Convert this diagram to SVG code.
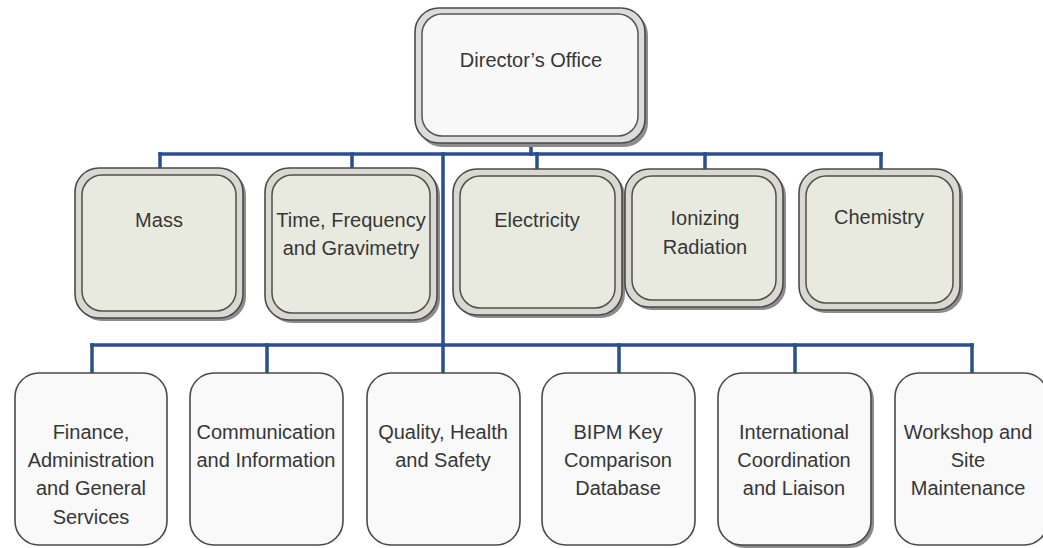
<svg xmlns="http://www.w3.org/2000/svg" width="1043" height="548" viewBox="0 0 1043 548">
<style>
  .t { font-family: "Liberation Sans", Arial, sans-serif; font-size: 20px; fill: #363636; text-anchor: middle; }
  .sh { fill: #8c8c8c; }
  .outer { fill: #d9d9d2; stroke: #4a4a4a; stroke-width: 1.6; }
  .inner { fill: #e9eadf; stroke: #4f4f4f; stroke-width: 1.5; }
  .douter { fill: #dcdcdc; stroke: #4a4a4a; stroke-width: 1.6; }
  .dinner { fill: #f8f8f8; stroke: #555; stroke-width: 1.5; }
  .low { fill: #f9f9f9; stroke: #4a4a4a; stroke-width: 1.6; }
  .c { fill: none; stroke: #2b4e8e; stroke-width: 3.5; stroke-linecap: square; }
</style>
<rect width="1043" height="548" fill="#ffffff"/>

<g id="connectors">
  <line class="c" x1="531" y1="145" x2="531" y2="154"/>
  <line class="c" x1="160" y1="154" x2="881" y2="154"/>
  <line class="c" x1="160" y1="154" x2="160" y2="168"/>
  <line class="c" x1="352" y1="154" x2="352" y2="168"/>
  <line class="c" x1="537" y1="154" x2="537" y2="169"/>
  <line class="c" x1="705" y1="154" x2="705" y2="169"/>
  <line class="c" x1="881" y1="154" x2="881" y2="169"/>
  <line class="c" x1="443" y1="154" x2="443" y2="345"/>
  <line class="c" x1="92" y1="345" x2="972" y2="345"/>
  <line class="c" x1="92" y1="345" x2="92" y2="373"/>
  <line class="c" x1="267" y1="345" x2="267" y2="373"/>
  <line class="c" x1="443" y1="345" x2="443" y2="373"/>
  <line class="c" x1="619" y1="345" x2="619" y2="373"/>
  <line class="c" x1="795" y1="345" x2="795" y2="373"/>
  <line class="c" x1="972" y1="345" x2="972" y2="373"/>
</g>

<g id="directors-office">
  <rect class="sh" x="418" y="11" width="230" height="136" rx="24"/>
  <rect class="douter" x="415" y="8" width="230" height="135" rx="24"/>
  <rect class="dinner" x="422" y="14" width="216" height="122" rx="20"/>
  <text class="t" x="531" y="67">Director’s Office</text>
</g>

<g id="mass">
  <rect class="sh" x="78" y="171" width="168" height="150" rx="24"/>
  <rect class="outer" x="75" y="168" width="168" height="150" rx="24"/>
  <rect class="inner" x="82" y="175" width="154" height="136" rx="20"/>
  <text class="t" x="159" y="227">Mass</text>
</g>

<g id="time-frequency">
  <rect class="sh" x="268" y="171" width="172" height="152" rx="24"/>
  <rect class="outer" x="265" y="168" width="172" height="152" rx="24"/>
  <rect class="inner" x="272" y="175" width="158" height="138" rx="20"/>
  <text class="t" x="351" y="227">Time, Frequency</text>
  <text class="t" x="351" y="255">and Gravimetry</text>
</g>

<g id="electricity">
  <rect class="sh" x="456" y="172" width="169" height="146" rx="24"/>
  <rect class="outer" x="453" y="169" width="169" height="146" rx="24"/>
  <rect class="inner" x="460" y="176" width="155" height="132" rx="20"/>
  <text class="t" x="537" y="227">Electricity</text>
</g>

<g id="ionizing-radiation">
  <rect class="sh" x="628" y="172" width="158" height="138" rx="24"/>
  <rect class="outer" x="625" y="169" width="158" height="138" rx="24"/>
  <rect class="inner" x="632" y="176" width="144" height="124" rx="20"/>
  <text class="t" x="705" y="225">Ionizing</text>
  <text class="t" x="705" y="254">Radiation</text>
</g>

<g id="chemistry">
  <rect class="sh" x="802" y="172" width="161" height="141" rx="24"/>
  <rect class="outer" x="799" y="169" width="161" height="141" rx="24"/>
  <rect class="inner" x="806" y="176" width="147" height="127" rx="20"/>
  <text class="t" x="879" y="224">Chemistry</text>
</g>

<g id="finance">
  <rect class="low" x="15" y="373" width="152" height="172" rx="24"/>
  <text class="t" x="91" y="439">Finance,</text>
  <text class="t" x="91" y="467">Administration</text>
  <text class="t" x="91" y="495">and General</text>
  <text class="t" x="91" y="524">Services</text>
</g>

<g id="communication">
  <rect class="low" x="190" y="373" width="153" height="172" rx="24"/>
  <text class="t" x="266" y="439">Communication</text>
  <text class="t" x="266" y="467">and Information</text>
</g>

<g id="quality">
  <rect class="low" x="367" y="373" width="153" height="172" rx="24"/>
  <text class="t" x="443" y="439">Quality, Health</text>
  <text class="t" x="443" y="467">and Safety</text>
</g>

<g id="bipm-kcdb">
  <rect class="low" x="542" y="373" width="153" height="172" rx="24"/>
  <text class="t" x="618" y="439">BIPM Key</text>
  <text class="t" x="618" y="467">Comparison</text>
  <text class="t" x="618" y="495">Database</text>
</g>

<g id="international">
  <rect x="721" y="376" width="153" height="172" rx="24" fill="#8c8c8c"/>
  <rect class="low" x="718" y="373" width="153" height="172" rx="24"/>
  <text class="t" x="794" y="439">International</text>
  <text class="t" x="794" y="467">Coordination</text>
  <text class="t" x="794" y="495">and Liaison</text>
</g>

<g id="workshop">
  <rect class="low" x="895" y="373" width="153" height="172" rx="24"/>
  <text class="t" x="968" y="439">Workshop and</text>
  <text class="t" x="968" y="467">Site</text>
  <text class="t" x="968" y="495">Maintenance</text>
</g>
</svg>
